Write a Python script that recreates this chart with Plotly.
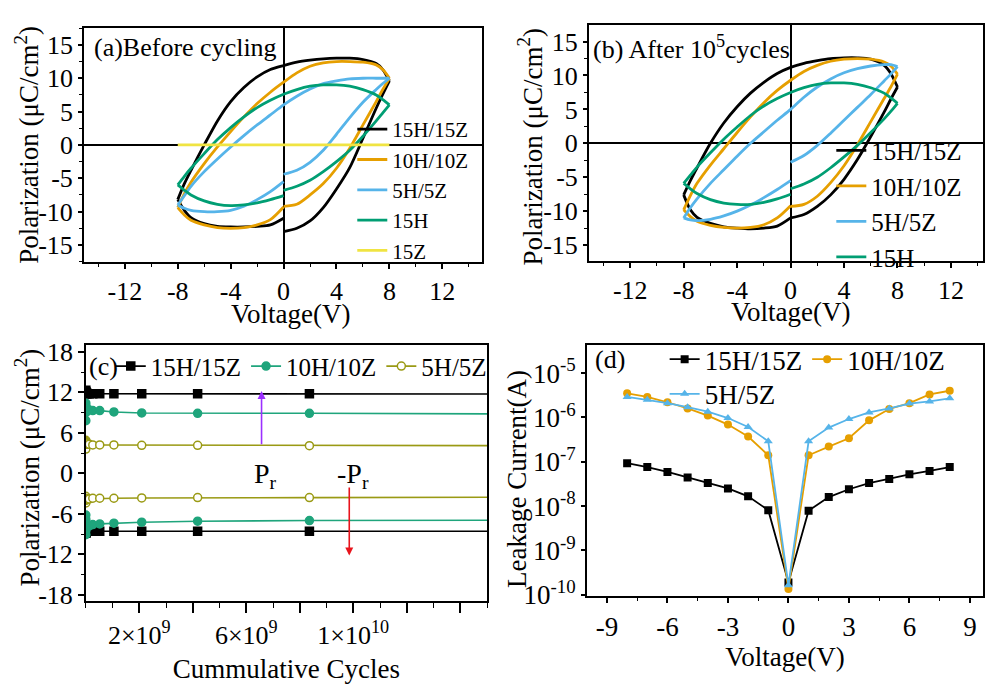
import plotly.graph_objects as go

# ---------------- data ----------------
# P-E loops: voltage grids for the three branches of each loop
V_UP = [0, 1, 2, 3, 4, 5, 6, 7, 7.5, 8]
V_DOWN = [8, 7.5, 7, 6, 5, 4, 3, 2, 1, 0, -1, -2, -3, -4, -5, -6, -7, -7.5, -8]
V_BACK = [-8, -7.5, -7, -6, -5, -4, -3, -2, -1, 0]

# (a) before cycling
a_hz15_up = [-13.0, -12.5, -11.4, -9.4, -6.6, -3.4, 1.0, 5.5, 7.6, 9.6]
a_hz15_down = [9.6, 11.3, 12.2, 12.8, 13.0, 13.0, 12.9, 12.7, 12.4, 11.9, 11.3, 10.2, 8.6, 6.5, 3.6, 0.0, -3.8, -5.8, -8.2]
a_hz15_back = [-8.2, -9.8, -10.9, -11.8, -12.2, -12.3, -12.3, -12.2, -12.0, -11.0]
a_hz10_up = [-9.2, -8.9, -7.5, -5.8, -3.5, -0.5, 3.0, 6.5, 8.3, 10.0]
a_hz10_down = [10.0, 11.3, 12.0, 12.4, 12.5, 12.5, 12.3, 11.8, 10.8, 9.4, 7.9, 6.2, 4.2, 2.0, -0.3, -2.8, -5.6, -7.3, -9.4]
a_hz10_back = [-9.4, -10.5, -11.3, -12.0, -12.4, -12.5, -12.4, -12.0, -11.2, -9.3]
a_hz5_up = [-4.4, -3.8, -2.6, -0.8, 1.6, 4.1, 6.4, 8.3, 9.2, 10.0]
a_hz5_down = [10.0, 10.0, 10.0, 10.0, 9.9, 9.6, 9.2, 8.4, 7.3, 6.0, 4.5, 3.0, 1.4, -0.3, -2.1, -4.0, -6.2, -7.6, -9.0]
a_hz5_back = [-9.0, -9.5, -9.8, -10.0, -10.0, -9.8, -9.2, -8.2, -7.0, -5.5]
a_h15_up = [-6.8, -6.2, -5.3, -4.0, -2.5, -0.8, 1.3, 3.6, 4.8, 6.0]
a_h15_down = [6.0, 6.8, 7.5, 8.3, 8.8, 9.0, 9.0, 8.8, 8.3, 7.6, 6.7, 5.6, 4.2, 2.6, 0.8, -1.3, -3.5, -4.7, -6.0]
a_h15_back = [-6.0, -6.8, -7.5, -8.4, -8.9, -9.1, -9.0, -8.7, -8.2, -7.6]
a_z15_v = [-8, 8]
a_z15_p = [0, 0]

# (b) after 10^5 cycles
b_hz15_up = [-11.0, -10.5, -9.3, -7.6, -5.3, -2.4, 1.0, 4.6, 6.5, 8.3]
b_hz15_down = [8.3, 10.3, 11.5, 12.4, 12.6, 12.6, 12.5, 12.2, 11.8, 11.2, 10.3, 9.0, 7.4, 5.4, 3.0, 0.0, -3.6, -5.5, -7.6]
b_hz15_back = [-7.6, -9.8, -10.9, -11.8, -12.3, -12.5, -12.6, -12.5, -12.2, -11.0]
b_hz10_up = [-9.3, -9.0, -7.8, -5.8, -3.3, -0.2, 3.2, 6.6, 8.3, 10.2]
b_hz10_down = [10.2, 11.4, 12.0, 12.4, 12.5, 12.4, 12.1, 11.5, 10.6, 9.3, 7.8, 6.0, 3.9, 1.6, -0.8, -3.2, -5.9, -7.7, -9.8]
b_hz10_back = [-9.8, -10.8, -11.5, -12.1, -12.4, -12.5, -12.4, -12.0, -11.0, -9.2]
b_hz5_up = [-2.8, -1.8, -0.3, 1.5, 3.4, 5.3, 7.2, 9.2, 10.2, 11.3]
b_hz5_down = [11.3, 11.6, 11.6, 11.4, 11.0, 10.4, 9.5, 8.3, 6.8, 5.0, 3.4, 1.7, 0.0, -1.9, -3.9, -5.9, -8.2, -9.5, -11.0]
b_hz5_back = [-11.0, -11.3, -11.4, -11.2, -10.7, -10.0, -9.1, -8.0, -6.8, -5.5]
b_h15_up = [-6.7, -6.0, -5.0, -3.6, -2.0, -0.3, 1.6, 3.6, 4.7, 5.9]
b_h15_down = [5.9, 6.7, 7.4, 8.2, 8.7, 8.9, 8.9, 8.7, 8.2, 7.5, 6.6, 5.5, 4.1, 2.4, 0.6, -1.4, -3.5, -4.7, -5.9]
b_h15_back = [-5.9, -6.7, -7.4, -8.3, -8.8, -9.0, -9.0, -8.7, -8.2, -7.5]

# tick labels for panels (a) and (b)
pe_xticks = [-12, -8, -4, 0, 4, 8, 12]
pe_xticktext = ["-12", "-8", "-4", "0", "4", "8", "12"]
pe_yticks = [-15, -10, -5, 0, 5, 10, 15]
pe_yticktext = ["-15", "-10", "-5", "0", "5", "10", "15"]

# (c) endurance
cycles = [1e3, 1e4, 1e5, 1e6, 1e7, 3.3e7, 6.5e7, 1.3e8, 2.6e8, 5.2e8, 1.05e9, 2.09e9, 4.18e9, 8.36e9, 1.67e10]
c_hz15_pos = [12.3, 12.0, 11.9, 12.1, 11.8, 11.9, 11.8, 11.8, 11.8, 11.8, 11.8, 11.8, 11.8, 11.8, 11.75]
c_hz15_neg = [-8.9, -8.7, -8.8, -8.6, -8.7, -8.6, -8.6, -8.6, -8.6, -8.6, -8.6, -8.6, -8.6, -8.6, -8.6]
c_hz10_pos = [10.4, 7.8, 10.0, 9.0, 9.6, 9.3, 9.5, 9.4, 9.3, 9.3, 9.1, 8.95, 8.9, 8.9, 8.8]
c_hz10_neg = [-6.2, -9.1, -6.8, -8.5, -7.4, -8.0, -7.6, -7.8, -7.6, -7.5, -7.4, -7.25, -7.1, -7.0, -6.95]
c_hz5_pos = [4.9, 3.6, 4.7, 4.3, 4.6, 4.3, 4.4, 4.3, 4.2, 4.2, 4.2, 4.15, 4.15, 4.1, 4.1]
c_hz5_neg = [-4.4, -3.4, -4.0, -3.7, -3.9, -3.8, -3.8, -3.8, -3.7, -3.7, -3.7, -3.65, -3.6, -3.6, -3.55]
c_xtickvals = [2e9, 4e9, 6e9, 8e9, 1e10, 1.2e10, 1.4e10]
c_xticktext = ["2×10<sup>9</sup>", "", "6×10<sup>9</sup>", "", "1×10<sup>10</sup>", "", ""]
c_yticks = [-18, -12, -6, 0, 6, 12, 18]
c_yticktext = ["-18", "-12", "-6", "0", "6", "12", "18"]

# (d) leakage current
d_v = [-8, -7, -6, -5, -4, -3, -2, -1, 0, 1, 2, 3, 4, 5, 6, 7, 8]
d_hz15 = [9.3e-8, 7.6e-8, 5.9e-8, 4.4e-8, 3.3e-8, 2.5e-8, 1.66e-8, 8.1e-9, 1.9e-10,
          7.9e-9, 1.6e-8, 2.4e-8, 3.3e-8, 4.1e-8, 5.2e-8, 6.2e-8, 7.6e-8]
d_hz10 = [3.5e-6, 2.9e-6, 2.2e-6, 1.6e-6, 1.1e-6, 6.9e-7, 3.7e-7, 1.4e-7, 1.35e-10,
          1.4e-7, 2.2e-7, 3.4e-7, 8.6e-7, 1.55e-6, 2.1e-6, 3.3e-6, 4.0e-6]
d_hz5 = [2.9e-6, 2.5e-6, 2.1e-6, 1.7e-6, 1.35e-6, 9.7e-7, 6.1e-7, 2.9e-7, 1.65e-10,
         2.9e-7, 5.9e-7, 9.2e-7, 1.3e-6, 1.6e-6, 2.05e-6, 2.3e-6, 2.7e-6]
d_xticks = [-9, -6, -3, 0, 3, 6, 9]
d_xticktext = ["-9", "-6", "-3", "0", "3", "6", "9"]
d_yticks = [1e-10, 1e-9, 1e-8, 1e-7, 1e-6, 1e-5]
d_yticktext = ["10<sup>-10</sup>", "10<sup>-9</sup>", "10<sup>-8</sup>", "10<sup>-7</sup>",
               "10<sup>-6</sup>", "10<sup>-5</sup>"]

# ---------------- style ----------------
FONT = "Liberation Serif, Times New Roman, serif"
BLACK = "#000000"
ORANGE = "#E69F00"
SKY = "#56B4E9"
GREEN = "#009E73"
YELLOW = "#F0E442"
TEAL = "#1FA57C"
OLIVE = "#9A9A14"
W, H = 985, 684


def px(x):
    return x / W


def py(y):
    return 1 - y / H


def loop(up, down, back):
    xs = V_UP + [None] + V_DOWN + [None] + V_BACK
    ys = up + [None] + down + [None] + back
    return xs, ys


fig = go.Figure()

loops_a = [("15H/15Z", BLACK, a_hz15_up, a_hz15_down, a_hz15_back),
           ("10H/10Z", ORANGE, a_hz10_up, a_hz10_down, a_hz10_back),
           ("5H/5Z", SKY, a_hz5_up, a_hz5_down, a_hz5_back),
           ("15H", GREEN, a_h15_up, a_h15_down, a_h15_back)]
for name, col, u, d, b in loops_a:
    xs, ys = loop(u, d, b)
    fig.add_trace(go.Scatter(x=xs, y=ys, mode="lines", name=name,
                             line=dict(color=col, width=2.8, shape="spline", smoothing=0.8),
                             connectgaps=False, xaxis="x", yaxis="y", legend="legend"))
fig.add_trace(go.Scatter(x=a_z15_v, y=a_z15_p, mode="lines", name="15Z",
                         line=dict(color=YELLOW, width=2.8), xaxis="x", yaxis="y", legend="legend"))

loops_b = [("15H/15Z", BLACK, b_hz15_up, b_hz15_down, b_hz15_back),
           ("10H/10Z", ORANGE, b_hz10_up, b_hz10_down, b_hz10_back),
           ("5H/5Z", SKY, b_hz5_up, b_hz5_down, b_hz5_back),
           ("15H", GREEN, b_h15_up, b_h15_down, b_h15_back)]
for name, col, u, d, b in loops_b:
    xs, ys = loop(u, d, b)
    fig.add_trace(go.Scatter(x=xs, y=ys, mode="lines", name=name,
                             line=dict(color=col, width=2.8, shape="spline", smoothing=0.8),
                             connectgaps=False, xaxis="x2", yaxis="y2", legend="legend2"))

series_c = [("15H/15Z", BLACK, c_hz15_pos, c_hz15_neg, "square", BLACK),
            ("10H/10Z", TEAL, c_hz10_pos, c_hz10_neg, "circle", TEAL),
            ("5H/5Z", OLIVE, c_hz5_pos, c_hz5_neg, "circle", "white")]
for name, col, pos, neg, sym, fill in series_c:
    fig.add_trace(go.Scatter(x=cycles + [None] + cycles, y=pos + [None] + neg,
                             mode="lines+markers", name=name, connectgaps=False,
                             line=dict(color=col, width=1.6),
                             marker=dict(symbol=sym, size=8, color=fill, line=dict(color=col, width=1.5)),
                             xaxis="x3", yaxis="y3", legend="legend3"))

series_d = [("15H/15Z", BLACK, d_hz15, "square", "legend4"),
            ("10H/10Z", ORANGE, d_hz10, "circle", "legend4"),
            ("5H/5Z", SKY, d_hz5, "triangle-up", "legend5")]
for name, col, vals, sym, lg in series_d:
    fig.add_trace(go.Scatter(x=d_v, y=vals, mode="lines+markers", name=name,
                             line=dict(color=col, width=1.8),
                             marker=dict(symbol=sym, size=8, color=col),
                             xaxis="x4", yaxis="y4", legend=lg))

base = dict(showline=True, linecolor="black", linewidth=1.5, mirror=True, ticks="outside",
            tickwidth=1.5, tickcolor="black", showgrid=False)
minor = dict(ticks="outside", tickwidth=1.2, tickcolor="black", showgrid=False)


def tf(size):
    return dict(family=FONT, size=size, color="black")


fig.update_layout(
    width=W, height=H, margin=dict(l=0, r=0, t=0, b=0),
    paper_bgcolor="white", plot_bgcolor="white", showlegend=True,
    font=dict(family=FONT, color="black"),
    xaxis=dict(domain=[px(84), px(483)], range=[-15.1, 15.0], tickvals=pe_xticks, ticktext=pe_xticktext,
               tickfont=tf(26), ticklen=5,
               zeroline=True, zerolinecolor="black", zerolinewidth=1.5, anchor="y",
               minor=dict(dtick=2, tick0=0, ticklen=3, **minor), **base),
    yaxis=dict(domain=[py(265), py(22)], range=[-17.6, 17.5], tickvals=pe_yticks, ticktext=pe_yticktext,
               tickfont=tf(26), ticklen=4,
               zeroline=True, zerolinecolor="black", zerolinewidth=1.5, anchor="x",
               minor=dict(dtick=2.5, tick0=0, ticklen=3, **minor), **base),
    xaxis2=dict(domain=[px(590), 1.0], range=[-15.1, 14.4], tickvals=pe_xticks, ticktext=pe_xticktext,
                tickfont=tf(26), ticklen=5,
                zeroline=True, zerolinecolor="black", zerolinewidth=1.5, anchor="y2",
                minor=dict(dtick=2, tick0=0, ticklen=3, **minor), **base),
    yaxis2=dict(domain=[py(264), py(19)], range=[-17.4, 17.4], tickvals=pe_yticks, ticktext=pe_yticktext,
                tickfont=tf(26), ticklen=4,
                zeroline=True, zerolinecolor="black", zerolinewidth=1.5, anchor="x2",
                minor=dict(dtick=2.5, tick0=0, ticklen=3, **minor), **base),
    xaxis3=dict(domain=[px(86), px(488)], range=[0, 1.5e10], tickvals=c_xtickvals, ticktext=c_xticktext,
                tickfont=tf(26), ticklen=10,
                title=dict(text="Cummulative Cycles", font=tf(27)),
                zeroline=False, anchor="y3", minor=dict(dtick=1e9, tick0=0, ticklen=5, **minor), **base),
    yaxis3=dict(domain=[py(617), py(351)], range=[-19, 19], tickvals=c_yticks, ticktext=c_yticktext,
                tickfont=tf(26), ticklen=6,
                zeroline=False, anchor="x3", minor=dict(dtick=3, tick0=0, ticklen=3, **minor), **base),
    xaxis4=dict(domain=[px(588), 1.0], range=[-10, 9.65], tickvals=d_xticks, ticktext=d_xticktext,
                tickfont=tf(27), ticklen=6,
                title=dict(text="Voltage(V)", font=tf(27), standoff=2),
                zeroline=False, anchor="y4", minor=dict(dtick=1.5, tick0=0, ticklen=4, **minor), **base),
    yaxis4=dict(domain=[py(611), py(351)], type="log", range=[-10.02, -4.37], tickvals=d_yticks,
                ticktext=d_yticktext, tickfont=tf(27), ticklen=4,
                zeroline=False, anchor="x4", **base),
    legend=dict(x=px(353), y=py(190), xanchor="left", yanchor="middle", bgcolor="rgba(0,0,0,0)",
                font=tf(21), tracegroupgap=0),
    legend2=dict(x=px(833), y=py(204), xanchor="left", yanchor="middle", bgcolor="rgba(0,0,0,0)",
                 font=tf(25)),
    legend3=dict(x=px(111), y=py(373), xanchor="left", yanchor="middle", orientation="h",
                 bgcolor="rgba(0,0,0,0)", font=tf(25)),
    legend4=dict(x=px(666), y=py(366), xanchor="left", yanchor="middle", orientation="h",
                 bgcolor="rgba(0,0,0,0)", font=tf(27)),
    legend5=dict(x=px(666), y=py(402), xanchor="left", yanchor="middle", orientation="h",
                 bgcolor="rgba(0,0,0,0)", font=tf(27)),
)

ann_font = tf(27)
annotations = [
    # axis titles
    dict(x=px(27), y=py(143), text="Polarization (μC/cm<sup>2</sup>)", textangle=-90),
    dict(x=px(291), y=py(319), text="Voltage(V)"),
    dict(x=px(531), y=py(145), text="Polarization (μC/cm<sup>2</sup>)", textangle=-90),
    dict(x=px(792), y=py(317), text="Voltage(V)"),
    dict(x=px(27), y=py(478), text="Polarization (μC/cm<sup>2</sup>)", textangle=-90),
    dict(x=px(518), y=py(490), text="Leakage Current(A)", textangle=-90),
]
for a in annotations:
    a.update(xref="paper", yref="paper", showarrow=False, font=ann_font,
             xanchor="center", yanchor="middle")
    fig.add_annotation(**a)

labels = [
    dict(x=px(92), y=py(42), text="(a)Before cycling"),
    dict(x=px(592), y=py(42), text="(b)\u2009After 10<sup>5</sup>cycles"),
    dict(x=px(87), y=py(373), text="(c)"),
    dict(x=px(594), y=py(366), text="(d)"),
]
for a in labels:
    fig.add_annotation(xref="paper", yref="paper", showarrow=False, xanchor="left", yanchor="middle",
                       font=tf(26), **a)

# Pr arrows and labels in (c)
fig.add_annotation(x=6.57e9, y=12.2, ax=6.57e9, ay=4.1, xref="x3", yref="y3", axref="x3", ayref="y3",
                   showarrow=True, arrowhead=2, arrowsize=1, arrowwidth=1.6, arrowcolor="#9B30FF", text="")
fig.add_annotation(x=9.85e9, y=-12.2, ax=9.85e9, ay=-1.9, xref="x3", yref="y3", axref="x3", ayref="y3",
                   showarrow=True, arrowhead=2, arrowsize=1, arrowwidth=1.6, arrowcolor="#E8141C", text="")
fig.add_annotation(x=6.22e9, y=-0.3, xref="x3", yref="y3", text="P<sub>r</sub>", showarrow=False,
                   xanchor="left", yanchor="middle", font=tf(28))
fig.add_annotation(x=9.3e9, y=-0.3, xref="x3", yref="y3", text="-P<sub>r</sub>", showarrow=False,
                   xanchor="left", yanchor="middle", font=tf(28))

fig.write_html("out.html")
